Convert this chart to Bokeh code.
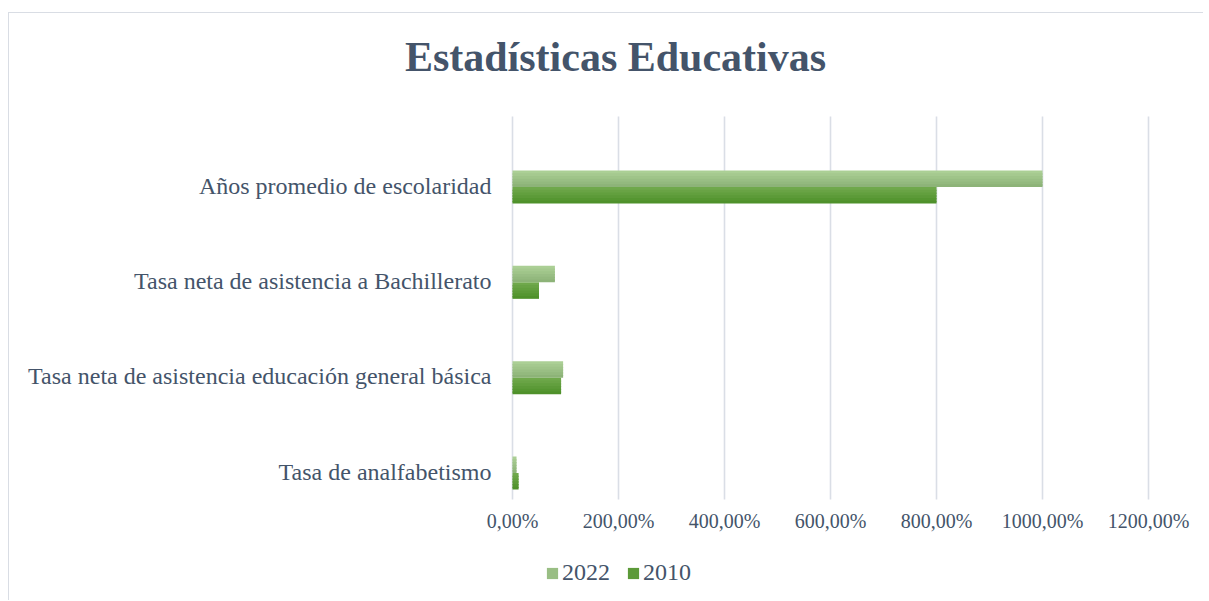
from bokeh.plotting import figure
from bokeh.models import (ColumnDataSource, Range1d, Legend, LegendItem, Label)
from bokeh.core.properties import value
from bokeh.transform import dodge
from bokeh.embed import file_html
from bokeh.resources import INLINE

# ---- data ----
categories = ["Tasa de analfabetismo",
              "Tasa neta de asistencia educación general básica",
              "Tasa neta de asistencia a Bachillerato",
              "Años promedio de escolaridad"]
values_2022 = [7.6, 95.5, 80.0, 1000.0]
values_2010 = [11.5, 91.7, 50.0, 800.0]
series_names = ["2022", "2010"]
tick_values = [0, 200, 400, 600, 800, 1000, 1200]
tick_labels = ["0,00%", "200,00%", "400,00%", "600,00%", "800,00%", "1000,00%", "1200,00%"]
title_text = "Estadísticas Educativas"

TEXT = "#44546A"
FONT = "Liberation Serif"

# ---- layout geometry (page pixels) ----
W, H = 1195, 588
ORG_X, ORG_Y = 9, 13            # page position of the figure canvas
X0_PX, X1200_PX = 512, 1148     # page x of 0 % and 1200 %
CAT0_PX, CAT3_PX = 472.5, 186.5 # page y of first / last category centre
sx = (X1200_PX - X0_PX) / 1200.0
sy = (CAT0_PX - CAT3_PX) / 3.0

def xd(px):
    return (px - X0_PX) / sx

def yd(py):
    return (CAT0_PX - py) / sy

pos = list(range(len(categories)))
src = ColumnDataSource(dict(cat=categories, pos=pos, v2022=values_2022, v2010=values_2010))

p = figure(width=W, height=H, output_backend="svg", toolbar_location=None,
           x_range=Range1d(xd(ORG_X), xd(ORG_X + W)),
           y_range=Range1d(yd(ORG_Y + H), yd(ORG_Y)),
           x_axis_type=None, y_axis_type=None,
           min_border=0)
p.styles = {"margin-left": "8px", "margin-top": "12px",
            "border-top": "1px solid #d9dde4", "border-left": "1px solid #d9dde4"}
p.outline_line_color = None
p.background_fill_color = "white"
p.border_fill_color = "white"
p.grid.visible = False

# vertical gridlines
p.segment(x0=tick_values, x1=tick_values,
          y0=[yd(499)] * len(tick_values), y1=[yd(116)] * len(tick_values),
          line_color="#dadee6", line_width=1.6)

# tick labels
p.text(x=tick_values, y=[yd(520)] * len(tick_values), text=tick_labels,
       text_align="center", text_baseline="alphabetic",
       text_font=value(FONT), text_font_size="20px", text_color=TEXT)

# category labels
p.text(x=0, y="pos", text="cat", source=src, x_offset=-21, y_offset=-1.5,
       text_align="right", text_baseline="alphabetic",
       text_font=value(FONT), text_font_size="24px", text_color=TEXT)

# bars with a vertical gradient simulated by thin slices
def hexmix(c1, c2, t):
    a = [int(c1[i:i + 2], 16) for i in (1, 3, 5)]
    b = [int(c2[i:i + 2], 16) for i in (1, 3, 5)]
    return "#%02x%02x%02x" % tuple(round(a[k] + (b[k] - a[k]) * t) for k in range(3))

bar_h = 16.5 / sy
N = 6
styles = {"v2022": (bar_h / 2, "#abcf95", "#8db378"),
          "v2010": (-bar_h / 2, "#6fa84b", "#4f912b")}
legend_renderers = {}
for field, (center, ctop, cbot) in styles.items():
    sl = bar_h / N
    for i in range(N):
        hgt = sl * 1.5 if i < N - 1 else sl
        top = center + bar_h / 2 - i * sl
        off = top - hgt / 2
        col = hexmix(ctop, cbot, i / (N - 1))
        r = p.hbar(y=dodge("pos", off), right=field, left=0,
                   height=hgt, source=src, fill_color=col, line_color=None)
        if i == N // 2:
            legend_renderers[field] = r

legend = Legend(items=[LegendItem(label=series_names[0], renderers=[legend_renderers["v2022"]]),
                       LegendItem(label=series_names[1], renderers=[legend_renderers["v2010"]])],
                orientation="horizontal", location=(545 - ORG_X, 15),
                glyph_width=14, glyph_height=14, label_standoff=3, spacing=16,
                padding=0, margin=0, border_line_color=None,
                background_fill_alpha=0,
                label_text_font=FONT, label_text_font_size="24px",
                label_text_color=TEXT, label_height=24)
p.add_layout(legend)

title = Label(x=xd(615), y=yd(56), text=title_text, text_align="center",
              text_baseline="alphabetic", text_font=FONT, text_font_size="42px",
              text_font_style="bold", text_color=TEXT)
p.add_layout(title)

open("out.html", "w").write(file_html(p, INLINE))
